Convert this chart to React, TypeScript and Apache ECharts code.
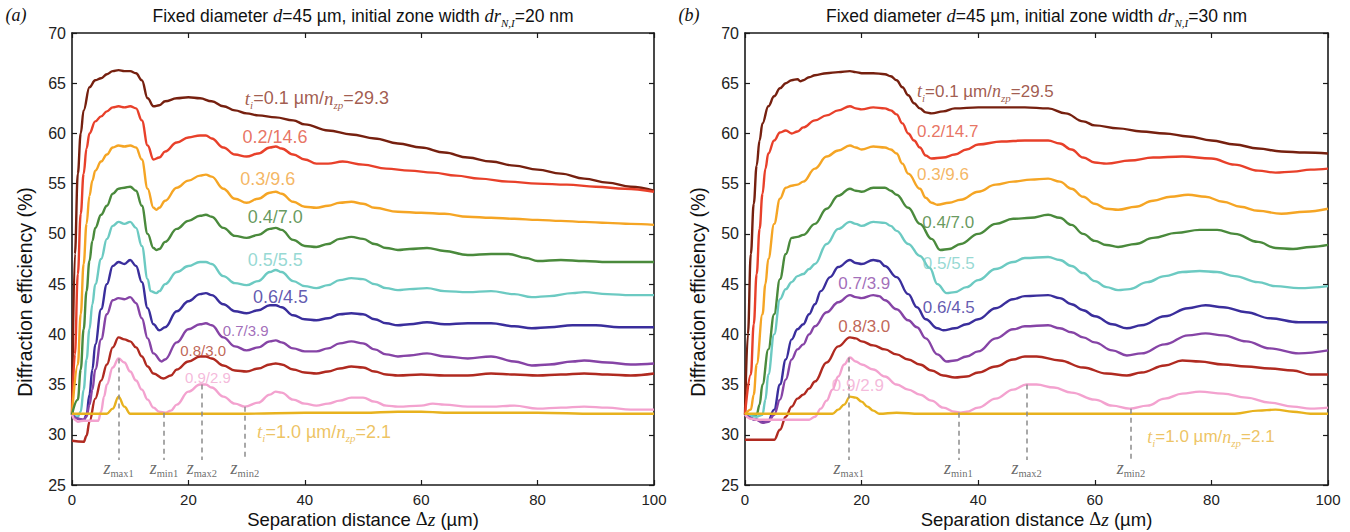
import React, { useEffect, useRef } from 'react';
import * as echarts from 'echarts';

const SANS = '"Liberation Sans", Arial, Helvetica, sans-serif';
const SERIF = '"Liberation Serif", "Times New Roman", serif';

// ---------- axes ----------
const X_MIN = 0, X_MAX = 100, X_STEP = 20;
const Y_MIN = 25, Y_MAX = 70, Y_STEP = 5;

// ---------- labels text ----------
const TI = ['0.1', '0.2', '0.3', '0.4', '0.5', '0.6', '0.7', '0.8', '0.9', '1.0'];
const A_NZP = ['29.3', '14.6', '9.6', '7.0', '5.5', '4.5', '3.9', '3.0', '2.9', '2.1'];
const B_NZP = ['29.5', '14.7', '9.6', '7.0', '5.5', '4.5', '3.9', '3.0', '2.9', '2.1'];

// ---------- panel (a): dr = 20 nm ----------
const A_T01 = [[0,32],[0.5,48],[1,56],[1.5,60],[2,62.3],[3,64.6],[4,65.3],[5,65.5],[6,65.9],[7,66.2],[8,66.3],[9,66.2],[10,66.2],[11,66.0],[12,65.3],[13,63.5],[14,62.7],[15,62.8],[16,63.2],[18,63.5],[20,63.6],[22,63.5],[24,63.2],[26,62.7],[28,62.3],[30,62.0],[32,61.8],[35,61.6],[38,61.3],[40,60.9],[44,60.3],[48,59.9],[52,59.5],[56,59.0],[60,58.6],[64,58.1],[68,57.6],[72,57.2],[76,56.8],[80,56.4],[84,56.0],[88,55.5],[92,55.1],[96,54.7],[100,54.3]];
const A_T02 = [[0,32],[0.5,38],[1,46],[1.5,52],[2,56],[2.5,58.5],[3,60],[4,61.2],[5,61.7],[6,62.2],[7,62.6],[8,62.7],[9,62.6],[10,62.7],[11,62.5],[12,61.3],[13,58.8],[14,57.4],[15,57.6],[16,58.2],[18,59.1],[20,59.6],[22,59.8],[23,59.8],[24,59.5],[26,58.6],[28,57.9],[30,57.7],[32,58.0],[34,58.6],[35,58.7],[36,58.5],[38,57.9],[40,57.4],[42,57.0],[44,57.0],[46.5,57.2],[50,56.9],[54,56.5],[58,56.3],[62,56.1],[66,55.8],[70,55.5],[75,55.2],[80,55.0],[85,54.9],[90,54.7],[95,54.5],[100,54.2]];
const A_T03 = [[0,32],[1,37],[1.5,42],[2,47],[2.5,51],[3,53.8],[3.5,55.3],[4,56.3],[5,57.2],[6,57.9],[7,58.6],[8,58.8],[9,58.7],[10,58.8],[11,58.6],[12,57.4],[13,54.5],[14,52.6],[14.5,52.4],[15,52.6],[16,53.3],[18,54.6],[20,55.3],[22,55.8],[23,55.9],[24,55.7],[26,54.5],[28,53.5],[30,53.1],[32,53.5],[34,54.1],[35,54.2],[36,54.0],[38,53.2],[40,52.7],[42,52.6],[44,52.8],[46,53.1],[48,53.2],[50,53.0],[52,52.6],[56,52.2],[60,52.1],[64,52.0],[68,51.7],[72,51.6],[76,51.5],[80,51.4],[84,51.3],[88,51.2],[92,51.1],[96,51.0],[100,50.9]];
const A_T04 = [[0,32],[1,33.5],[1.5,36.5],[2,40.5],[2.5,44.3],[3,47.3],[3.5,49.3],[4,50.6],[5,51.9],[6,52.8],[7,54.0],[8,54.5],[9,54.6],[10,54.7],[11,54.3],[12,52.8],[13,50.0],[14,48.6],[14.5,48.4],[15,48.5],[16,49.2],[18,50.5],[20,51.3],[22,51.8],[23,51.9],[24,51.7],[26,50.6],[28,49.8],[30,49.6],[32,49.9],[34,50.5],[35,50.6],[36,50.4],[38,49.4],[40,48.8],[42,48.7],[44,49.0],[46,49.5],[48,49.7],[50,49.5],[52,49.0],[54,48.6],[56,48.4],[58,48.5],[61,48.6],[64,48.3],[68,47.9],[72,48.0],[75,48.0],[78,47.6],[80,47.3],[84,47.4],[88,47.3],[92,47.2],[96,47.2],[100,47.2]];
const A_T05 = [[0,32],[1,31.8],[1.5,32.3],[2,34.5],[2.5,37.5],[3,40.5],[3.5,43],[4,45],[5,47.5],[6,49.5],[7,50.8],[8,51.2],[9,51.0],[10,51.2],[11,50.6],[12,48.8],[13,45.5],[13.5,44.3],[14.5,44.1],[15,44.3],[16,45.0],[18,46.2],[20,46.8],[22,47.2],[23,47.2],[24,47.0],[26,45.8],[28,45.1],[30,44.9],[32,45.3],[34,46.2],[35,46.4],[36,46.2],[38,45.3],[40,44.8],[42,44.6],[44,44.9],[46,45.4],[48,45.6],[50,45.5],[52,45.0],[54,44.6],[56,44.4],[58,44.5],[61,44.6],[64,44.3],[68,44.2],[72,44.3],[76,44.0],[79,43.7],[82,43.8],[86,44.1],[88,44.2],[92,44.0],[96,43.9],[100,43.9]];
const A_T06 = [[0,32],[1,31.6],[2,31.4],[2.5,32],[3,34],[3.5,36.5],[4,39],[5,42.5],[6,45],[7,46.8],[8,47.2],[9,47.0],[10,47.4],[11,46.8],[12,45.2],[13,42.6],[14,41.0],[15,40.4],[16,40.7],[18,42.3],[20,43.3],[22,44.0],[23,44.1],[24,43.9],[26,43.0],[28,42.3],[30,42.1],[32,42.4],[34,42.9],[35,42.9],[36,42.7],[38,41.9],[40,41.5],[42,41.4],[44,41.6],[46,42.0],[48,42.1],[50,42.0],[52,41.5],[54,41.1],[56,40.9],[58,41.0],[61,41.2],[64,41.0],[68,41.1],[72,41.1],[76,40.8],[79,40.6],[82,40.7],[86,40.9],[90,40.9],[94,40.7],[100,40.7]];
const A_T07 = [[0,32],[1,31.6],[2,31.5],[2.5,31.8],[3,33],[3.5,34.5],[4,36.5],[5,39.5],[6,42],[7,43.4],[8,43.6],[9,43.5],[10,43.7],[11,43.1],[12,41.6],[13,39.6],[14,38.1],[15.4,37.3],[16,37.5],[18,39.2],[20,40.5],[22,41.0],[23,41.1],[24,40.9],[26,39.7],[28,38.8],[30,38.4],[32,38.7],[34,39.3],[35,39.4],[36,39.2],[38,38.6],[40,38.3],[42,38.3],[44,38.6],[46,39.1],[48,39.3],[50,39.1],[52,38.5],[54,38.0],[56,37.8],[58,37.9],[61,38.1],[64,37.8],[68,37.6],[72,37.8],[76,37.3],[79,36.9],[82,37.0],[86,37.3],[88,37.4],[92,37.2],[96,37.0],[100,37.1]];
const A_T08 = [[0,29.4],[2,29.3],[2.5,29.9],[3,31.3],[4,33.6],[5,35.4],[6,37.0],[7,38.7],[8,39.7],[9,39.5],[10,39.3],[11,38.7],[12,37.8],[13,36.8],[14,36.1],[15.7,35.6],[17,35.9],[18,36.5],[20,37.3],[22,37.8],[23,37.8],[24,37.6],[26,36.9],[28,36.4],[30,36.3],[32,36.6],[34,37.0],[35,37.1],[36,37.0],[38,36.5],[40,36.2],[42,36.1],[44,36.3],[46,36.6],[48,36.8],[50,36.7],[52,36.3],[54,36.0],[56,35.9],[60,36.0],[64,35.9],[68,35.9],[72,36.1],[76,36.0],[80,35.9],[84,36.0],[88,36.1],[92,36.0],[96,35.9],[100,36.1]];
const A_T09 = [[0,32],[0.5,31.5],[1,31.3],[2,31.4],[4.5,31.4],[5,32.3],[5.5,33.8],[6,35.0],[7,36.7],[8,37.6],[9,37.2],[10,36.3],[11,35.4],[12,34.5],[13,33.5],[14,32.7],[15,32.3],[16,32.2],[17,32.4],[18,33.0],[20,34.3],[22,35.0],[23,35.0],[24,34.7],[26,33.8],[28,33.1],[29.7,32.8],[32,33.2],[34,34.0],[35,34.3],[36,34.2],[38,33.5],[40,33.1],[42,32.9],[44,33.1],[46,33.4],[48,33.7],[50,33.7],[52,33.3],[54,32.9],[56,32.8],[60,32.9],[62,33.1],[64,33.0],[68,32.8],[72,32.8],[76,32.9],[80,32.6],[84,32.7],[88,32.8],[92,32.7],[96,32.5],[100,32.5]];
const A_T10 = [[0,32.1],[6,32.1],[7,32.6],[8,33.8],[9,32.8],[10,32.1],[30,32.1],[40,32.2],[50,32.2],[56,32.3],[60,32.3],[64,32.2],[80,32.2],[90,32.1],[100,32.1]];

// ---------- panel (b): dr = 30 nm ----------
const B_T01 = [[0,32],[0.5,40],[1,48],[1.5,53],[2,56.8],[2.5,59.3],[3,61.0],[4,62.7],[5,63.7],[6,64.5],[7,65.0],[8,65.3],[9,65.4],[9.5,65.2],[10,65.3],[11,65.6],[12,65.8],[14,66.0],[16,66.1],[18,66.2],[19,66.1],[20,66.0],[22,66.0],[24,65.9],[25,65.7],[26,65.3],[27,64.6],[28,63.8],[29,63.0],[30,62.5],[31,62.1],[32,62.0],[34,62.2],[36,62.5],[40,62.6],[44,62.6],[48,62.6],[52,62.5],[55,62.0],[58,61.2],[60,60.8],[64,60.5],[68,60.2],[72,60.0],[76,59.7],[80,59.3],[84,58.9],[88,58.5],[92,58.2],[96,58.1],[100,58.0]];
const B_T02 = [[0,32],[1,36],[1.5,41],[2,46],[2.5,50.5],[3,54],[3.5,56.5],[4,58.0],[5,59.3],[6,60.1],[7,60.3],[8,60.0],[9,60.2],[10,60.6],[12,61.3],[14,61.8],[16,62.3],[18,62.7],[19,62.5],[20,62.4],[22,62.6],[24,62.5],[25,62.3],[26,61.9],[27,61.0],[28,60.0],[29,59.3],[30,58.6],[31,57.8],[32,57.5],[34,57.6],[36,57.9],[38,58.4],[40,58.9],[44,59.2],[48,59.3],[52,59.3],[54,59.0],[56,58.4],[58,57.6],[60,57.1],[62,57.0],[66,57.3],[70,57.6],[75,57.7],[80,57.5],[84,56.9],[88,56.3],[91,56.1],[94,56.2],[97,56.4],[100,56.5]];
const B_T03 = [[0,32],[1,32.5],[1.5,34],[2,37],[3,42],[3.5,45],[4,47.5],[5,51],[6,53.5],[7,54.6],[8,54.8],[9,54.9],[10,55.2],[12,56.5],[14,57.7],[16,58.3],[18,58.8],[19,58.6],[20,58.4],[22,58.7],[24,58.6],[25,58.4],[26,58.0],[27,57.0],[28,56.0],[30,54.5],[31,53.6],[32,53.1],[33,52.9],[35,53.1],[37,53.4],[40,54.2],[43,54.9],[46,55.2],[49,55.4],[52,55.5],[54,55.2],[56,54.5],[58,53.7],[60,53.0],[62,52.5],[64,52.4],[67,52.7],[70,53.3],[73,53.7],[76,53.9],[79,53.7],[82,53.2],[85,52.7],[88,52.3],[92,52.0],[96,52.2],[100,52.5]];
const B_T04 = [[0,32],[2,32],[2.5,33],[3,35],[4,38.5],[5,42],[6,45.5],[7,48],[8,49.6],[9,49.7],[10,49.9],[12,51.0],[14,52.5],[16,53.8],[18,54.5],[19,54.3],[20,54.2],[22,54.6],[24,54.6],[25,54.3],[26,53.9],[28,52.6],[30,51.0],[32,49.5],[33.5,48.4],[35,48.5],[37,49.0],[40,50.0],[43,51.0],[46,51.5],[49,51.6],[52,51.9],[54,51.6],[56,50.9],[58,50.0],[60,49.3],[62,48.9],[64,48.7],[67,49.0],[70,49.6],[74,50.1],[78,50.4],[81,50.4],[84,50.0],[88,49.2],[91,48.6],[94,48.5],[97,48.7],[100,48.9]];
const B_T05 = [[0,32],[2,31.8],[3,32],[3.5,33.5],[4,36],[5,40],[6,43.5],[7,44.5],[8,45.2],[9,45.8],[10,46.0],[11,46.5],[12,47.0],[14,49.0],[16,50.5],[18,51.2],[19,51.0],[20,50.8],[22,51.2],[24,51.1],[25,50.8],[26,50.3],[28,49.0],[30,47.8],[31.7,46.6],[33,45.0],[34.6,44.1],[36,44.2],[38,44.7],[40,45.4],[43,46.5],[46,47.2],[48,47.6],[52,47.7],[54,47.4],[56,46.8],[58,46.1],[60,45.3],[62,44.7],[64,44.4],[66,44.5],[69,45.2],[72,45.8],[75,46.2],[78,46.3],[81,46.2],[84,45.8],[88,45.2],[91,44.8],[95,44.6],[100,44.8]];
const B_T06 = [[0,32],[2,31.5],[3,31.3],[4,31.4],[5,32.5],[6,35],[7,37.5],[8,39.5],[9,40.5],[10,41.0],[11,42.0],[12,43.0],[13,44.3],[14.6,45.7],[16,46.7],[18,47.4],[19,47.1],[20,47.0],[22,47.4],[23,47.3],[24,46.8],[26,45.7],[28,44.0],[29.5,42.7],[31,41.5],[33,40.6],[34,40.4],[36,40.6],[38,41.0],[40,41.5],[43,42.6],[46,43.5],[48,43.8],[52,43.9],[54,43.6],[56,43.0],[58,42.4],[60,41.8],[63,41.0],[65.5,40.6],[68,40.9],[72,41.8],[76,42.6],[79,42.9],[82,42.7],[86,42.2],[90,41.6],[95,41.2],[100,41.2]];
const B_T07 = [[0,32],[2,31.5],[3,31.2],[4,31.3],[5,32.0],[6,33.5],[7,35.5],[8,37.5],[9,38.5],[10,39.0],[11,40.0],[12,40.8],[14,42.2],[16,43.2],[18,43.9],[19,43.7],[20,43.6],[22,43.9],[23,43.8],[24,43.4],[26,42.5],[28,41.4],[29.5,40.7],[31,39.6],[33,38.0],[34.6,37.3],[36,37.4],[38,37.8],[40,38.3],[43,39.6],[46,40.5],[48,40.8],[52,40.9],[54,40.6],[56,40.2],[58,39.7],[60,39.2],[63,38.4],[65.5,37.9],[68,38.1],[72,39.0],[76,39.9],[79,40.1],[82,39.9],[86,39.3],[90,38.6],[95,38.1],[100,38.4]];
const B_T08 = [[0,29.5],[5,29.5],[6,30.5],[7,31.8],[8,32.8],[9,33.6],[10,34.0],[11,34.6],[12,35.3],[14,37.2],[16,38.8],[18,39.7],[19,39.6],[20,39.3],[22,38.9],[24,38.5],[26,38.0],[28,37.5],[30,37.0],[32,36.4],[34,35.9],[36,35.7],[38,35.8],[40,36.2],[43,36.8],[46,37.5],[48,37.8],[50,37.8],[54,37.4],[58,36.7],[62,36.1],[65.5,35.9],[68,36.2],[72,36.9],[75,37.4],[78,37.3],[82,37.0],[86,36.8],[90,36.6],[94,36.4],[97,36.0],[100,36.0]];
const B_T09 = [[0,32],[1,31.6],[2,31.5],[11,31.5],[12,31.8],[13,32.6],[14,33.4],[15,34.5],[16,35.8],[17,37.0],[18,37.7],[19,37.3],[20,37.0],[22,36.5],[24,35.8],[26,35.0],[28,34.5],[30,34.0],[32,33.4],[34,32.7],[36,32.3],[37,32.2],[38,32.3],[40,32.7],[43,33.6],[46,34.5],[48.3,35.0],[50,35.0],[53,34.7],[56,34.2],[60,33.5],[63,32.9],[66,32.6],[69,32.9],[72,33.6],[75,34.1],[78,34.3],[82,34.1],[86,33.7],[90,33.2],[94,32.8],[97,32.6],[100,32.7]];
const B_T10 = [[0,32.1],[15,32.1],[16,32.5],[17,33.0],[18,33.8],[19,33.7],[20,33.3],[21,32.8],[22,32.4],[23,32.1],[26,32.2],[30,32.1],[70,32.1],[84,32.1],[88,32.4],[91,32.5],[94,32.3],[97,32.1],[100,32.1]];

const A_SERIES = [A_T01, A_T02, A_T03, A_T04, A_T05, A_T06, A_T07, A_T08, A_T09, A_T10];
const B_SERIES = [B_T01, B_T02, B_T03, B_T04, B_T05, B_T06, B_T07, B_T08, B_T09, B_T10];

// z markers: position on the 0.9 curve
const A_ZMARK = [{ sub: 'max1', x: 8, top: 37.6 }, { sub: 'min1', x: 15.8, top: 32.2 }, { sub: 'max2', x: 22.3, top: 35.0 }, { sub: 'min2', x: 29.7, top: 32.8 }];
const B_ZMARK = [{ sub: 'max1', x: 17.8, top: 37.7 }, { sub: 'min1', x: 36.6, top: 32.2 }, { sub: 'max2', x: 48.3, top: 35.0 }, { sub: 'min2', x: 66.2, top: 32.6 }];
const Z_LINE_BOTTOM = 27.5;
const Z_LABEL_Y = 26.7;

// annotation anchors (data coordinates)
const A_LABEL_AT = [[29.7,63.5],[29.3,59.6],[28.9,55.5],[30.2,51.7],[30.2,47.4],[31.1,43.7],[25.9,40.4],[18.6,38.4],[19.4,35.7],[31.8,30.3]];
const B_LABEL_AT = [[29.5,64.2],[29.5,60.2],[29.5,55.9],[30.4,51.1],[30.5,47.1],[30.5,42.7],[16.0,45.1],[16.0,40.8],[14.9,34.9],[69.0,29.8]];

// styles
const LINE_COLORS = ['#76200f', '#e8402a', '#f5a524', '#4a8a3c', '#6ccac2', '#3a2e9c', '#8644a6', '#b02a20', '#f3a2cf', '#e8b21e'];
const LABEL_COLORS = ['#8a3222', '#e2503a', '#f2a43a', '#3f7f35', '#7ccfc8', '#3a2f9c', '#8a48a8', '#b0402c', '#f2a8d2', '#e9b43a'];

const GRIDS = [
  { left: 72, top: 33, width: 582, height: 452 },
  { left: 745, top: 33, width: 583, height: 452 },
];

function labelText(i: number, nzp: string[]) {
  if (i === 0 || i === 9) {
    return `{it|t}{sub|i}{n|=${TI[i]} µm/}{it|n}{sub|zp}{n|=${nzp[i]}}`;
  }
  return `{n|${TI[i]}/${nzp[i]}}`;
}

function buildPanel(p: number, series: number[][][], nzp: string[], labelAt: number[][], zmarks: any[], smallIdx: number[], fs: number) {
  const xi = p * 2, yi = p * 2;
  const lines = series.map((d, i) => ({
    type: 'line',
    xAxisIndex: xi,
    yAxisIndex: yi,
    data: d,
    symbol: 'none',
    smooth: 0.4,
    smoothMonotone: 'x',
    silent: true,
    lineStyle: { color: LINE_COLORS[i], width: 2.4 },
    z: 3,
  }));
  const items: any[] = labelAt.map((pos, i) => {
    const small = smallIdx.includes(i);
    return {
      value: pos,
      label: {
        show: true,
        position: 'right',
        distance: 0,
        color: LABEL_COLORS[i],
        formatter: small ? `{s|${TI[i]}/${nzp[i]}}` : labelText(i, nzp),
      },
    };
  });
  zmarks.forEach((m) => {
    items.push({
      value: [m.x, Z_LABEL_Y],
      label: { show: true, position: 'inside', color: '#444', formatter: `{zi|z}{zs|${m.sub}}` },
    });
  });
  const labels = {
    type: 'scatter',
    xAxisIndex: xi,
    yAxisIndex: yi,
    symbolSize: 0,
    silent: true,
    z: 5,
    data: items,
    label: {
      show: true,
      rich: {
        n: { fontFamily: SANS, fontSize: fs, lineHeight: 24 },
        s: { fontFamily: SANS, fontSize: 15, lineHeight: 20 },
        it: { fontFamily: SERIF, fontStyle: 'italic', fontSize: fs + 1, lineHeight: 24 },
        sub: { fontFamily: SERIF, fontStyle: 'italic', fontSize: 11, verticalAlign: 'bottom' },
        zi: { fontFamily: SERIF, fontStyle: 'italic', fontSize: 18, lineHeight: 22, color: '#444' },
        zs: { fontFamily: SERIF, fontSize: 10.5, verticalAlign: 'bottom', color: '#444' },
      },
    },
    markLine: {
      silent: true,
      symbol: ['none', 'none'],
      label: { show: false },
      lineStyle: { type: [5, 4], color: '#8c8c8c', width: 1.5 },
      data: zmarks.map((m) => [{ coord: [m.x, m.top] }, { coord: [m.x, Z_LINE_BOTTOM] }]),
    },
  };
  return [...lines, labels];
}

function axisPair(grid: number) {
  const line = { show: true, onZero: false, lineStyle: { color: '#1a1a1a', width: 1.6 } };
  const tick = { show: true, inside: true, length: 5, lineStyle: { color: '#1a1a1a', width: 1.2 } };
  const xAxes = [
    {
      gridIndex: grid, type: 'value', min: X_MIN, max: X_MAX, interval: X_STEP, position: 'bottom',
      axisLine: line, axisTick: tick, splitLine: { show: false },
      axisLabel: { fontSize: 15, color: '#222', margin: 7, fontFamily: SANS },
    },
    {
      gridIndex: grid, type: 'value', min: X_MIN, max: X_MAX, interval: X_STEP, position: 'top',
      axisLine: line, axisTick: tick, splitLine: { show: false }, axisLabel: { show: false },
    },
  ];
  const yAxes = [
    {
      gridIndex: grid, type: 'value', min: Y_MIN, max: Y_MAX, interval: Y_STEP, position: 'left',
      axisLine: line, axisTick: tick, splitLine: { show: false },
      axisLabel: { fontSize: 16, color: '#222', margin: 6, fontFamily: SANS },
    },
    {
      gridIndex: grid, type: 'value', min: Y_MIN, max: Y_MAX, interval: Y_STEP, position: 'right',
      axisLine: line, axisTick: tick, splitLine: { show: false }, axisLabel: { show: false },
    },
  ];
  return { xAxes, yAxes };
}

function titleText(dr: string) {
  return `{n|Fixed diameter }{i|d}{n|=45 µm, initial zone width }{i|dr}{s|N,I}{n|=${dr} nm}`;
}

const titleRich = {
  n: { fontFamily: SANS, fontSize: 17.5, lineHeight: 24, fill: '#111' },
  i: { fontFamily: SERIF, fontStyle: 'italic', fontSize: 18.5, lineHeight: 24, fill: '#111' },
  s: { fontFamily: SERIF, fontStyle: 'italic', fontSize: 11, verticalAlign: 'bottom', fill: '#111' },
};

const xNameRich = {
  n: { fontFamily: SANS, fontSize: 18.5, lineHeight: 24, fill: '#111' },
  d: { fontFamily: SERIF, fontSize: 18.5, lineHeight: 24, fill: '#111' },
  i: { fontFamily: SERIF, fontStyle: 'italic', fontSize: 19.5, lineHeight: 24, fill: '#111' },
};

export default function App() {
  const ref = useRef<HTMLDivElement>(null);
  useEffect(() => {
    if (!ref.current) return;
    const chart = echarts.init(ref.current, null, { renderer: 'svg' });
    const a = axisPair(0);
    const b = axisPair(1);
    const graphic: any[] = [];
    [0, 1].forEach((p) => {
      const g = GRIDS[p];
      const cx = g.left + g.width / 2;
      graphic.push({
        type: 'text', x: cx, y: 16,
        style: { text: titleText(p === 0 ? '20' : '30'), rich: titleRich, align: 'center', verticalAlign: 'middle' },
      });
      graphic.push({
        type: 'text', x: p === 0 ? 16 : 689, y: 15,
        style: { text: p === 0 ? '(a)' : '(b)', fontFamily: SERIF, fontStyle: 'italic', fontSize: 18, fill: '#111', align: 'center', verticalAlign: 'middle' },
      });
      graphic.push({
        type: 'text', x: g.left - 47, y: 292, rotation: Math.PI / 2,
        style: { text: 'Diffraction efficiency (%)', fontFamily: SANS, fontSize: 19.5, fill: '#111', align: 'center', verticalAlign: 'middle' },
      });
      graphic.push({
        type: 'text', x: cx, y: 519,
        style: { text: '{n|Separation distance }{d|Δ}{i|z}{n| (µm)}', rich: xNameRich, align: 'center', verticalAlign: 'middle' },
      });
    });
    chart.setOption({
      animation: false,
      backgroundColor: '#ffffff',
      grid: GRIDS.map((g) => ({ ...g, containLabel: false })),
      xAxis: [...a.xAxes, ...b.xAxes],
      yAxis: [...a.yAxes, ...b.yAxes],
      series: [
        ...buildPanel(0, A_SERIES, A_NZP, A_LABEL_AT, A_ZMARK, [6, 7, 8], 18),
        ...buildPanel(1, B_SERIES, B_NZP, B_LABEL_AT, B_ZMARK, [], 17),
      ],
      graphic,
    });
    return () => chart.dispose();
  }, []);
  return <div ref={ref} style={{ position: 'absolute', left: 0, top: 0, width: 1350, height: 532 }} />;
}
